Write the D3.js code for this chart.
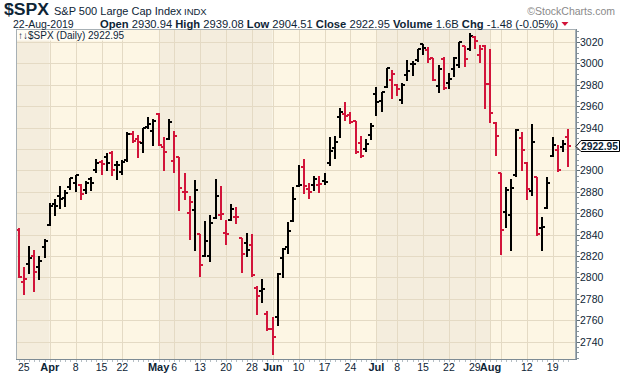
<!DOCTYPE html>
<html><head><meta charset="utf-8">
<script src="https://cdn.jsdelivr.net/npm/d3@7"></script>
<style>
body{margin:0;background:#fff;}
svg{display:block;font-family:"Liberation Sans",Arial,sans-serif;}
</style>
</head><body>
<svg id="c" width="620" height="376"></svg>
<script>
// ---------------- DATA ----------------
const dates = [
"2019-03-22","2019-03-25","2019-03-26","2019-03-27","2019-03-28","2019-03-29",
"2019-04-01","2019-04-02","2019-04-03","2019-04-04","2019-04-05","2019-04-08","2019-04-09","2019-04-10","2019-04-11","2019-04-12","2019-04-15","2019-04-16","2019-04-17","2019-04-18","2019-04-22","2019-04-23","2019-04-24","2019-04-25","2019-04-26","2019-04-29","2019-04-30",
"2019-05-01","2019-05-02","2019-05-03","2019-05-06","2019-05-07","2019-05-08","2019-05-09","2019-05-10","2019-05-13","2019-05-14","2019-05-15","2019-05-16","2019-05-17","2019-05-20","2019-05-21","2019-05-22","2019-05-23","2019-05-24","2019-05-28","2019-05-29","2019-05-30","2019-05-31",
"2019-06-03","2019-06-04","2019-06-05","2019-06-06","2019-06-07","2019-06-10","2019-06-11","2019-06-12","2019-06-13","2019-06-14","2019-06-17","2019-06-18","2019-06-19","2019-06-20","2019-06-21","2019-06-24","2019-06-25","2019-06-26","2019-06-27","2019-06-28",
"2019-07-01","2019-07-02","2019-07-03","2019-07-05","2019-07-08","2019-07-09","2019-07-10","2019-07-11","2019-07-12","2019-07-15","2019-07-16","2019-07-17","2019-07-18","2019-07-19","2019-07-22","2019-07-23","2019-07-24","2019-07-25","2019-07-26","2019-07-29","2019-07-30","2019-07-31",
"2019-08-01","2019-08-02","2019-08-05","2019-08-06","2019-08-07","2019-08-08","2019-08-09","2019-08-12","2019-08-13","2019-08-14","2019-08-15","2019-08-16","2019-08-19","2019-08-20","2019-08-21","2019-08-22"];

const openV = [
2844.52,2796.01,2812.66,2819.72,2809.40,2828.27,
2848.63,2868.24,2876.09,2873.99,2884.16,2888.46,2886.58,2881.37,2891.92,2900.86,2908.32,2912.26,2916.04,2904.81,2898.78,2909.99,2934.00,2928.99,2925.81,2940.58,2937.14,
2952.33,2922.16,2929.21,2908.89,2913.03,2879.61,2859.84,2863.10,2840.19,2820.12,2820.38,2855.80,2858.60,2841.94,2854.02,2856.06,2836.70,2832.41,2830.03,2790.25,2786.94,2766.15,
2751.53,2762.64,2818.09,2828.51,2852.87,2885.83,2903.27,2882.73,2886.24,2886.82,2889.75,2906.71,2920.55,2949.60,2952.71,2951.42,2945.78,2926.07,2919.66,2932.94,
2971.41,2964.66,2978.08,2984.25,2979.77,2965.52,2989.30,2999.62,3003.36,3017.80,3012.13,3005.10,2978.87,3004.26,2981.93,2994.74,2998.77,3016.26,3013.25,3024.47,3007.66,3016.22,
2980.32,2943.90,2898.07,2861.18,2858.65,2896.21,2930.51,2907.07,2880.72,2894.15,2846.20,2864.74,2913.48,2919.01,2922.04,2930.94];

const highV = [
2846.16,2809.79,2829.87,2825.56,2819.71,2836.03,
2869.40,2872.90,2885.25,2881.28,2893.24,2895.95,2886.88,2889.71,2893.42,2910.54,2909.60,2916.06,2918.00,2908.40,2909.51,2936.31,2936.83,2933.10,2939.88,2949.52,2948.22,
2954.13,2931.68,2947.85,2937.32,2913.03,2897.96,2875.97,2891.31,2840.19,2852.54,2858.68,2892.15,2885.48,2853.86,2868.88,2865.47,2836.70,2841.36,2840.51,2792.03,2799.00,2768.98,
2763.07,2804.49,2827.28,2852.10,2884.97,2904.77,2910.61,2888.57,2895.24,2894.45,2897.27,2930.79,2931.74,2958.06,2964.15,2954.92,2946.52,2932.59,2929.30,2943.98,
2977.93,2973.21,2995.84,2994.03,2980.76,2981.90,3002.98,3002.33,3013.92,3017.80,3015.02,3005.26,2998.28,3006.02,2990.71,3005.90,3019.59,3016.31,3027.98,3025.61,3017.19,3017.40,
3013.59,2945.50,2898.07,2884.40,2892.17,2938.72,2935.75,2907.58,2943.31,2894.15,2856.67,2893.63,2931.00,2923.63,2928.73,2939.08];

const lowV = [
2800.71,2785.02,2803.99,2787.72,2798.77,2819.23,
2848.63,2858.75,2865.17,2867.14,2882.99,2880.78,2873.33,2879.13,2881.99,2898.37,2896.48,2900.71,2895.45,2891.90,2896.35,2908.53,2926.31,2912.84,2917.56,2939.35,2924.11,
2923.36,2900.50,2929.21,2898.21,2862.60,2873.28,2836.40,2825.39,2801.43,2820.12,2815.08,2855.80,2854.23,2831.29,2854.02,2851.11,2805.49,2820.19,2801.58,2766.06,2776.74,2750.52,
2728.81,2755.95,2800.92,2822.45,2852.87,2885.51,2878.53,2874.68,2881.99,2879.62,2887.30,2905.44,2911.43,2931.50,2946.87,2944.05,2916.01,2912.99,2918.57,2929.05,
2952.22,2955.92,2977.96,2967.97,2970.09,2963.44,2984.62,2988.80,3001.87,3008.77,3001.15,2984.25,2973.09,2975.86,2976.65,2988.56,2996.82,2997.24,3012.59,3014.30,3000.94,2958.08,
2945.23,2914.11,2822.12,2847.42,2825.71,2894.47,2900.15,2873.14,2877.05,2839.64,2825.51,2864.74,2913.48,2899.60,2917.91,2904.51];

const closeV = [
2800.71,2798.36,2818.46,2805.37,2815.44,2834.40,
2867.19,2867.24,2873.40,2879.39,2892.74,2895.77,2878.20,2888.21,2888.32,2907.41,2905.58,2907.06,2900.45,2905.03,2907.97,2933.68,2927.25,2926.17,2939.88,2943.03,2945.83,
2923.73,2917.52,2945.64,2932.47,2884.05,2879.42,2870.72,2881.40,2811.87,2834.41,2850.96,2876.32,2859.53,2840.23,2864.36,2856.27,2822.24,2826.06,2802.39,2783.02,2788.86,2752.06,
2744.45,2803.27,2826.15,2843.49,2873.34,2886.73,2885.72,2879.84,2891.64,2886.98,2889.67,2917.75,2926.46,2954.18,2950.46,2945.35,2917.38,2913.78,2924.92,2941.76,
2964.33,2973.01,2995.82,2990.41,2975.95,2979.63,2993.07,2999.91,3013.77,3014.30,3004.04,2984.42,2995.11,2976.61,2985.03,3005.47,3019.56,3003.67,3025.86,3020.97,3013.18,2980.38,
2953.56,2932.05,2844.74,2881.77,2883.98,2938.09,2918.65,2882.70,2926.32,2840.60,2847.60,2888.68,2923.65,2900.51,2924.43,2922.95];

const priorClose = 2854.88; // close before first bar (for colouring)

const yTicks = [2740,2760,2780,2800,2820,2840,2860,2880,2900,2920,2940,2960,2980,3000,3020];
const xTickDates = ["2019-03-25","2019-04-01","2019-04-08","2019-04-15","2019-04-22","2019-05-01","2019-05-06","2019-05-13","2019-05-20","2019-05-28","2019-06-03","2019-06-10","2019-06-17","2019-06-24","2019-07-01","2019-07-08","2019-07-15","2019-07-22","2019-07-29","2019-08-01","2019-08-12","2019-08-19"];
const xTickLabels = ["25","Apr","8","15","22","May","6","13","20","28","Jun","10","17","24","Jul","8","15","22","29","Aug","12","19"];
const gridDates = ["2019-04-01","2019-04-08","2019-04-15","2019-04-22","2019-05-01","2019-05-06","2019-05-13","2019-05-20","2019-05-28","2019-06-03","2019-06-10","2019-06-17","2019-06-24","2019-07-01","2019-07-08","2019-07-15","2019-07-22","2019-07-29","2019-08-01","2019-08-05","2019-08-12","2019-08-19"];
const monthStartDates = ["2019-03-22","2019-04-01","2019-05-01","2019-06-03","2019-07-01","2019-08-01"];

// ---------------- CHART ----------------
const svg = d3.select("#c");
const L = 16, R = 576, T = 29, B = 359;
const RED = "#d2143a", INK = "#0e2536";
const x = d3.scaleLinear().domain([-0.5, dates.length + 0.5]).range([L, R]);
const y = d3.scaleLinear().domain([2723.85, 3032.15]).range([B, T]);
const idx = d => dates.indexOf(d);

svg.append("rect").attr("width",620).attr("height",376).attr("fill","#fff");

// month bands
const bands = monthStartDates.map((d,k)=>({
  x0: k===0 ? L : x(idx(d)),
  x1: k<monthStartDates.length-1 ? x(idx(monthStartDates[k+1])) : R,
  dark: k%2===0
}));
svg.append("g").selectAll("rect").data(bands).join("rect")
  .attr("x",d=>d.x0).attr("y",T).attr("width",d=>d.x1-d.x0).attr("height",B-T)
  .attr("fill",d=>d.dark?"#f4eddd":"#fdf6e4");

// gridlines
const grid = svg.append("g").attr("stroke","#e4dac4").attr("stroke-width",1);
grid.selectAll("line.h").data(yTicks).join("line").attr("class","h")
  .attr("x1",L).attr("x2",R).attr("y1",d=>Math.round(y(d))+0.5).attr("y2",d=>Math.round(y(d))+0.5);
grid.selectAll("line.v").data(gridDates).join("line").attr("class","v")
  .attr("x1",d=>Math.round(x(idx(d)))+0.5).attr("x2",d=>Math.round(x(idx(d)))+0.5)
  .attr("y1",T).attr("y2",B);

// legend strip
svg.append("rect").attr("x",L+0.5).attr("y",T+0.5).attr("width",106).attr("height",11).attr("fill","#fffdf6");
svg.append("text").attr("x",18).attr("y",39.3).attr("font-size",10).attr("fill",INK)
  .text("\u2191\u2193$SPX (Daily) 2922.95");

// OHLC bars
const bars = svg.append("g");
dates.forEach((d,i)=>{
  const prev = i===0 ? priorClose : closeV[i-1];
  const col = closeV[i] < prev ? RED : "#000";
  const cx = Math.round(x(i));
  const yh = Math.round(y(highV[i])), yl = Math.round(y(lowV[i]));
  const yo = Math.round(y(openV[i])), yc = Math.round(y(closeV[i]));
  bars.append("rect").attr("x",cx-1).attr("y",yh).attr("width",2).attr("height",Math.max(2,yl-yh+1)).attr("fill",col);
  bars.append("rect").attr("x",cx-3).attr("y",yo-1).attr("width",3).attr("height",2).attr("fill",col);
  bars.append("rect").attr("x",cx).attr("y",yc-1).attr("width",3).attr("height",2).attr("fill",col);
});

// plot frame
svg.append("rect").attr("x",L+0.5).attr("y",T+0.5).attr("width",R-L-1).attr("height",B-T).attr("fill","none")
  .attr("stroke","#a7b0b5").attr("stroke-width",1);
svg.append("line").attr("x1",R+0.5).attr("x2",R+0.5).attr("y1",T).attr("y2",B+1).attr("stroke","#7d8b94");
svg.append("line").attr("x1",L).attr("x2",R+1).attr("y1",B+0.5).attr("y2",B+0.5).attr("stroke","#7d8b94");

// last price
const last = closeV[closeV.length-1];
const ly = Math.round(y(last));

// right axis ticks
const minor = d3.range(2725, 3031, 5);
svg.append("g").selectAll("line").data(minor).join("line")
  .attr("x1",R+1).attr("x2",R+3).attr("y1",d=>Math.round(y(d))+0.5).attr("y2",d=>Math.round(y(d))+0.5)
  .attr("stroke","#8a979f");
svg.append("g").selectAll("line").data(yTicks).join("line")
  .attr("x1",R+1).attr("x2",R+4).attr("y1",d=>Math.round(y(d))+0.5).attr("y2",d=>Math.round(y(d))+0.5)
  .attr("stroke","#5c6b75");
svg.append("g").selectAll("text").data(yTicks.filter(v=>Math.abs(y(v)-ly)>9)).join("text")
  .attr("x",580).attr("y",d=>y(d)+4).attr("font-size",10.5).attr("fill",INK).text(d=>d);

// x axis ticks + labels
svg.append("g").selectAll("line").data(dates).join("line")
  .attr("x1",(d,i)=>Math.round(x(i))+0.5).attr("x2",(d,i)=>Math.round(x(i))+0.5)
  .attr("y1",B+1).attr("y2",B+3).attr("stroke","#b5bec4");
svg.append("g").selectAll("text").data(xTickDates).join("text")
  .attr("x",d=>x(idx(d))).attr("y",371).attr("text-anchor","middle")
  .attr("font-size",(d,k)=>/^[A-Z]/.test(xTickLabels[k])?11:10.5)
  .attr("font-weight",(d,k)=>/^[A-Z]/.test(xTickLabels[k])?"bold":"normal")
  .attr("fill",INK).text((d,k)=>xTickLabels[k]);

// last price tag
svg.append("path").attr("d",`M576,${ly+0.5} L581,${ly-5.5} L619.5,${ly-5.5} L619.5,${ly+5.5} L581,${ly+5.5} Z`)
  .attr("fill","#fff").attr("stroke","#000").attr("stroke-width",1);
svg.append("text").attr("x",581).attr("y",ly+4).attr("font-size",11).attr("font-weight","bold")
  .attr("textLength",37).attr("lengthAdjust","spacingAndGlyphs")
  .attr("fill",INK).text(last.toFixed(2));

// header
svg.append("text").attr("x",4).attr("y",15).attr("font-size",16).attr("font-weight","bold").attr("fill",INK)
  .attr("textLength",45).attr("lengthAdjust","spacingAndGlyphs").text("$SPX");
svg.append("text").attr("x",54).attr("y",15).attr("font-size",11).attr("fill",INK).text("S&P 500 Large Cap Index");
svg.append("text").attr("x",184).attr("y",15).attr("font-size",9.5).attr("fill",INK).text("INDX");
svg.append("text").attr("x",615).attr("y",15).attr("text-anchor","end").attr("font-size",10.5).attr("fill","#8a8a8a").text("\u00A9StockCharts.com");
svg.append("text").attr("x",13).attr("y",28).attr("font-size",10.5).attr("fill",INK).text("22-Aug-2019");

const n = closeV.length;
const chg = closeV[n-1]-closeV[n-2];
const parts = [
  ["Open ",true],[openV[n-1].toFixed(2)+" ",false],
  ["High ",true],[highV[n-1].toFixed(2)+" ",false],
  ["Low ",true],[lowV[n-1].toFixed(2)+" ",false],
  ["Close ",true],[closeV[n-1].toFixed(2)+" ",false],
  ["Volume ",true],["1.6B ",false],
  ["Chg ",true],[chg.toFixed(2)+" ("+(chg/closeV[n-2]*100).toFixed(2)+"%)",false]
];
const hdr = svg.append("text").attr("x",100).attr("y",27.5).attr("font-size",11.2).attr("fill",INK).attr("xml:space","preserve");
parts.forEach(p=>hdr.append("tspan").attr("font-weight",p[1]?"bold":"normal").text(p[0]));
const hb = hdr.node().getBBox();
svg.append("path").attr("d",`M${hb.x+hb.width+3},22 L${hb.x+hb.width+10},22 L${hb.x+hb.width+6.5},26 Z`).attr("fill",RED);
</script>
</body></html>
